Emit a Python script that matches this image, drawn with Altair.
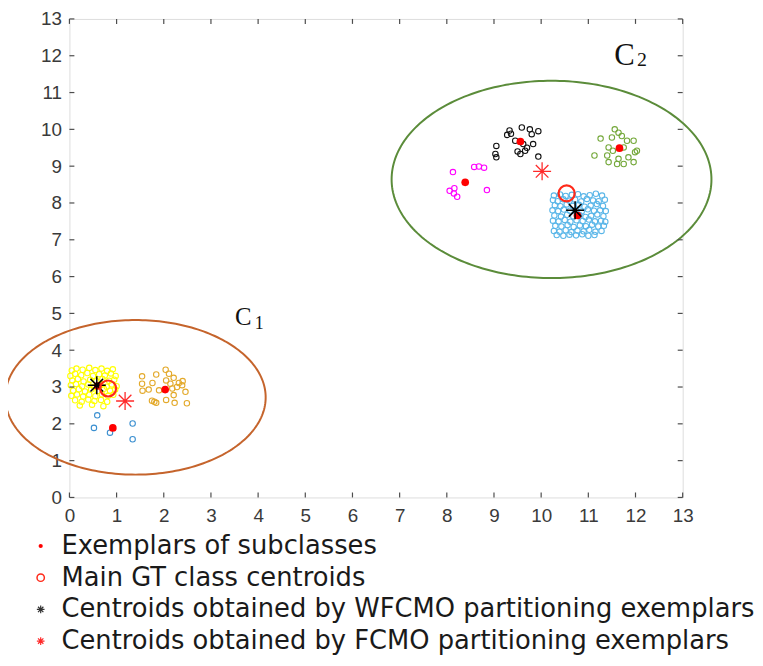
import altair as alt
import numpy as np
import pandas as pd

# ---------------- data ----------------
ticks = list(range(0, 14))

yellow_x = [0.05, 0.15, 0.28, 0.42, 0.55, 0.68, 0.80, 0.92,
            0.02, 0.12, 0.25, 0.38, 0.50, 0.63, 0.75, 0.88, 0.98,
            0.06, 0.18, 0.30, 0.44, 0.57, 0.70, 0.84, 0.95,
            0.03, 0.14, 0.27, 0.40, 0.52, 0.66, 0.79, 0.90, 1.00,
            0.08, 0.20, 0.33, 0.46, 0.60, 0.73, 0.86, 0.97,
            0.04, 0.16, 0.29, 0.42, 0.55, 0.69, 0.82, 0.93,
            0.12, 0.26, 0.40, 0.53, 0.67, 0.80,
            0.22, 0.48, 0.72]
yellow_y = [3.45, 3.50, 3.47, 3.52, 3.46, 3.50, 3.44, 3.48,
            3.30, 3.36, 3.32, 3.38, 3.30, 3.35, 3.31, 3.37, 3.30,
            3.18, 3.22, 3.15, 3.20, 3.16, 3.22, 3.17, 3.20,
            3.05, 3.08, 3.02, 3.07, 3.00, 3.05, 3.01, 3.07, 3.02,
            2.90, 2.94, 2.88, 2.93, 2.89, 2.95, 2.90, 2.93,
            2.76, 2.80, 2.74, 2.79, 2.75, 2.80, 2.76, 2.79,
            2.64, 2.60, 2.66, 2.62, 2.65, 2.60,
            2.50, 2.52, 2.48]

orange_x = [1.54, 1.84, 2.04, 2.11, 1.54, 1.76, 2.05, 2.21, 2.32, 2.40,
            1.55, 1.68, 1.90, 2.18, 2.28, 2.46, 2.21, 2.05, 2.23, 2.49,
            1.75, 1.84, 2.14, 2.39, 1.80]
orange_y = [3.29, 3.34, 3.47, 3.36, 3.09, 3.11, 3.18, 3.25, 3.11, 3.16,
            2.90, 2.93, 2.91, 2.96, 3.00, 2.87, 2.78, 2.65, 2.57, 2.56,
            2.63, 2.57, 3.09, 3.05, 2.60]

blue_x = [0.59, 0.52, 0.86, 1.34, 1.34]
blue_y = [2.23, 1.89, 1.76, 2.01, 1.58]

black_x = [9.33, 9.59, 9.76, 9.94, 9.28, 9.36, 9.80, 9.05, 9.03, 9.05,
           9.45, 9.62, 9.83, 9.56, 9.66, 9.94, 9.70, 9.50]
black_y = [9.97, 10.05, 10.00, 9.95, 9.85, 9.88, 9.87, 9.55, 9.33, 9.24,
           9.69, 9.60, 9.60, 9.33, 9.42, 9.26, 9.50, 9.40]

magenta_x = [8.13, 8.58, 8.68, 8.79, 8.06, 8.16, 8.22, 8.15, 8.85]
magenta_y = [8.84, 8.98, 8.99, 8.96, 8.33, 8.40, 8.17, 8.26, 8.35]

green_x = [11.26, 11.56, 11.64, 11.71, 11.50, 11.13, 11.43, 11.40, 11.52, 11.75,
           11.82, 11.96, 12.03, 11.99, 11.43, 11.61, 11.75, 11.96, 11.64, 11.85]
green_y = [9.75, 10.00, 9.91, 9.82, 9.78, 9.29, 9.51, 9.29, 9.42, 9.51,
           9.69, 9.69, 9.42, 9.38, 9.11, 9.06, 9.06, 9.11, 9.20, 9.24]

lblue_x = [10.27, 10.40, 10.52, 10.65, 10.78, 10.90, 11.03, 11.16, 11.29,
           10.25, 10.35, 10.47, 10.60, 10.72, 10.85, 10.97, 11.10, 11.22, 11.35,
           10.29, 10.41, 10.54, 10.67, 10.80, 10.92, 11.05, 11.18, 11.31,
           10.24, 10.36, 10.48, 10.61, 10.74, 10.86, 10.99, 11.12, 11.25, 11.37,
           10.28, 10.42, 10.55, 10.68, 10.81, 10.94, 11.06, 11.19, 11.32,
           10.25, 10.37, 10.50, 10.62, 10.75, 10.88, 11.01, 11.14, 11.27, 11.36,
           10.30, 10.43, 10.56, 10.69, 10.82, 10.95, 11.08, 11.21, 11.33,
           10.27, 10.39, 10.52, 10.64, 10.77, 10.90, 11.02, 11.15, 11.28,
           10.33, 10.47, 10.60, 10.74, 10.87, 11.00, 11.13]
lblue_y = [8.20, 8.23, 8.19, 8.22, 8.24, 8.18, 8.21, 8.25, 8.20,
           8.08, 8.05, 8.10, 8.06, 8.09, 8.04, 8.11, 8.07, 8.05, 8.09,
           7.94, 7.91, 7.96, 7.92, 7.95, 7.90, 7.93, 7.97, 7.92,
           7.80, 7.78, 7.82, 7.79, 7.81, 7.77, 7.83, 7.79, 7.80, 7.78,
           7.66, 7.63, 7.68, 7.64, 7.67, 7.62, 7.65, 7.69, 7.64,
           7.52, 7.50, 7.54, 7.49, 7.53, 7.51, 7.55, 7.50, 7.52, 7.49,
           7.38, 7.36, 7.40, 7.35, 7.39, 7.37, 7.41, 7.36, 7.38,
           7.24, 7.22, 7.26, 7.21, 7.25, 7.23, 7.27, 7.22, 7.24,
           7.13, 7.11, 7.14, 7.12, 7.15, 7.11, 7.13]

exemplar_x = [0.92, 2.03, 0.60, 9.56, 8.39, 11.66, 10.77]
exemplar_y = [1.89, 2.93, 3.03, 9.67, 8.56, 9.49, 7.66]

gt_x = [0.82, 10.54]
gt_y = [2.96, 8.26]

wfcmo_x = [0.58, 10.72]
wfcmo_y = [3.05, 7.80]

fcmo_x = [1.18, 10.02]
fcmo_y = [2.62, 8.86]

ell_names = ["C1", "C2"]
ell_cx = [1.40, 10.22]
ell_cy = [2.72, 8.64]
ell_rx = [2.76, 3.39]
ell_ry = [2.10, 2.68]
ell_colors = ["#c5642c", "#5b8c3a"]

legend_labels = ["Exemplars of subclasses",
                 "Main GT class centroids",
                 "Centroids obtained by WFCMO partitioning exemplars",
                 "Centroids obtained by FCMO partitioning exemplars"]

# ---------------- build tables ----------------
groups = [("yellow", yellow_x, yellow_y, "#ffff00"),
          ("orange", orange_x, orange_y, "#e3a92a"),
          ("blue", blue_x, blue_y, "#3a8fd0"),
          ("black", black_x, black_y, "#111111"),
          ("magenta", magenta_x, magenta_y, "#ff00ff"),
          ("green", green_x, green_y, "#74a83a"),
          ("lblue", lblue_x, lblue_y, "#5ab6e8")]
rows = []
for name, xs_, ys_, _ in groups:
    for a, b in zip(xs_, ys_):
        rows.append({"x": a, "y": b, "g": name})
pts = pd.DataFrame(rows)
pts["o"] = range(len(pts))

ell_rows = []
t = np.linspace(0, 2 * np.pi, 241)
for n, cx, cy, rx, ry in zip(ell_names, ell_cx, ell_cy, ell_rx, ell_ry):
    for i, tt in enumerate(t):
        ell_rows.append({"x": cx + rx * np.cos(tt), "y": cy + ry * np.sin(tt), "e": n, "i": i})
ell = pd.DataFrame(ell_rows)

xs = alt.Scale(domain=[0, 13], nice=False, zero=False)
ys = alt.Scale(domain=[0, 13], nice=False, zero=False)

TOP = 8
W, H = 619, 483
STAR = "M-1,0L1,0M0,-1L0,1M-0.7,-0.7L0.7,0.7M-0.7,0.7L0.7,-0.7"

ax_common = dict(values=ticks, ticks=False, domain=False, grid=False,
                 labelFontSize=19, labelFont="Liberation Sans", labelColor="#3a3a3a",
                 labelOverlap=False, labelFlush=False, labelBound=False,
                 title=None)
AX = alt.Axis(labelPadding=9, **ax_common)
AY = alt.Axis(labelPadding=8, **ax_common)


def X(f="x"):
    return alt.X(f"{f}:Q", scale=xs, axis=AX)


def Y(f="y"):
    return alt.Y(f"{f}:Q", scale=ys, axis=AY)


ellipses = alt.Chart(ell).mark_line(strokeWidth=2, clip=False).encode(
    x=X(), y=Y(),
    stroke=alt.Stroke("e:N", scale=alt.Scale(domain=ell_names, range=ell_colors), legend=None),
    order="i:Q", detail="e:N")

clusters = alt.Chart(pts).mark_point(filled=False, size=30, strokeWidth=1.1, opacity=1).encode(
    x=X(), y=Y(),
    color=alt.Color("g:N", scale=alt.Scale(domain=[g[0] for g in groups], range=[g[3] for g in groups]),
                    legend=None),
    order="o:Q")


def simple(xv, yv):
    return pd.DataFrame({"x": xv, "y": yv})


exemplars = alt.Chart(simple(exemplar_x, exemplar_y)).mark_point(
    filled=True, shape="circle", size=60, color="#ff0000", opacity=1).encode(x=X(), y=Y())

gts = alt.Chart(simple(gt_x, gt_y)).mark_point(
    filled=False, shape="circle", size=260, strokeWidth=2.2, color="#ff2a1a", opacity=1).encode(x=X(), y=Y())

wf = alt.Chart(simple(wfcmo_x, wfcmo_y)).mark_point(
    filled=False, shape=STAR, size=330, strokeWidth=1.5, color="#000000", opacity=1).encode(x=X(), y=Y())

fc = alt.Chart(simple(fcmo_x, fcmo_y)).mark_point(
    filled=False, shape=STAR, size=330, strokeWidth=1.3, color="#ff2a2a", opacity=1).encode(x=X(), y=Y())

# inward tick marks on all four sides
tk = pd.DataFrame({"t": ticks})
tick_len = 5
tcol = "#4d4d4d"
tb = alt.Chart(tk).mark_rule(color=tcol, strokeWidth=1.2).encode(
    x=X("t"), y=alt.value(H), y2=alt.value(H - tick_len))
tt_ = alt.Chart(tk).mark_rule(color=tcol, strokeWidth=1.2).encode(
    x=X("t"), y=alt.value(0), y2=alt.value(tick_len))
tl = alt.Chart(tk).mark_rule(color=tcol, strokeWidth=1.2).encode(
    y=Y("t"), x=alt.value(0), x2=alt.value(tick_len))
tr = alt.Chart(tk).mark_rule(color=tcol, strokeWidth=1.2).encode(
    y=Y("t"), x=alt.value(W), x2=alt.value(W - tick_len))

# cluster labels C1 / C2
lab = pd.DataFrame({"x": [3.51, 11.55], "y": [4.69, 11.75], "s": ["1", "2"]})
cbig1 = alt.Chart(lab.iloc[[0]]).mark_text(text="C", font="Liberation Serif", fontSize=25,
                                           align="left", baseline="alphabetic", color="#111111").encode(
    x=X(), y=Y())
csub1 = alt.Chart(lab.iloc[[0]]).mark_text(font="Liberation Serif", fontSize=18, dx=20, dy=4,
                                           align="left", baseline="alphabetic", color="#111111").encode(
    x=X(), y=Y(), text="s:N")
cbig2 = alt.Chart(lab.iloc[[1]]).mark_text(text="C", font="Liberation Serif", fontSize=31,
                                           align="left", baseline="alphabetic", color="#111111").encode(
    x=X(), y=Y())
csub2 = alt.Chart(lab.iloc[[1]]).mark_text(font="Liberation Serif", fontSize=20, dx=23, dy=1,
                                           align="left", baseline="alphabetic", color="#111111").encode(
    x=X(), y=Y(), text="s:N")

# manual legend below the plot (pixel rows measured from the plot top)
row_y = [540 - TOP - 3 + 3 - 3, 572 - TOP - 3, 604 - TOP - 3, 636 - TOP - 3]
row_y = [548 - 8 - TOP, 580 - 8 - TOP, 612 - 8 - TOP, 644 - 8 - TOP]
mx, tx = -29, -8
one = pd.DataFrame({"k": [0]})
legend_layers = []
legend_layers.append(alt.Chart(one).mark_point(filled=True, shape="circle", size=18, color="#ff0000", opacity=1)
                     .encode(x=alt.value(mx), y=alt.value(row_y[0])))
legend_layers.append(alt.Chart(one).mark_point(filled=False, shape="circle", size=55, strokeWidth=1.5,
                                               color="#ff2a1a", opacity=1)
                     .encode(x=alt.value(mx), y=alt.value(row_y[1])))
legend_layers.append(alt.Chart(one).mark_point(filled=False, shape=STAR, size=60, strokeWidth=1.2,
                                               color="#333333", opacity=1)
                     .encode(x=alt.value(mx), y=alt.value(row_y[2])))
legend_layers.append(alt.Chart(one).mark_point(filled=False, shape=STAR, size=60, strokeWidth=1.2,
                                               color="#ff2a2a", opacity=1)
                     .encode(x=alt.value(mx), y=alt.value(row_y[3])))
for lbl, yy in zip(legend_labels, row_y):
    legend_layers.append(alt.Chart(one).mark_text(text=lbl, font="DejaVu Sans", fontSize=26,
                                                  align="left", baseline="middle", color="#1a1a1a")
                         .encode(x=alt.value(tx), y=alt.value(yy)))

chart = alt.layer(
    ellipses, clusters, exemplars, wf, gts, fc,
    tb, tt_, tl, tr, cbig1, csub1, cbig2, csub2, *legend_layers
).resolve_scale(color="independent", stroke="independent").properties(
    width=W, height=H,
    autosize=alt.AutoSizeParams(type="none"),
    padding={"left": 62, "top": TOP, "right": 73, "bottom": 648 - TOP - H},
).configure_axis(labelOverlap=False).configure_view(
    stroke="#444444", strokeWidth=1.6).configure(background="white")

chart.save("out.html", embed_options={"renderer": "svg", "actions": False})
